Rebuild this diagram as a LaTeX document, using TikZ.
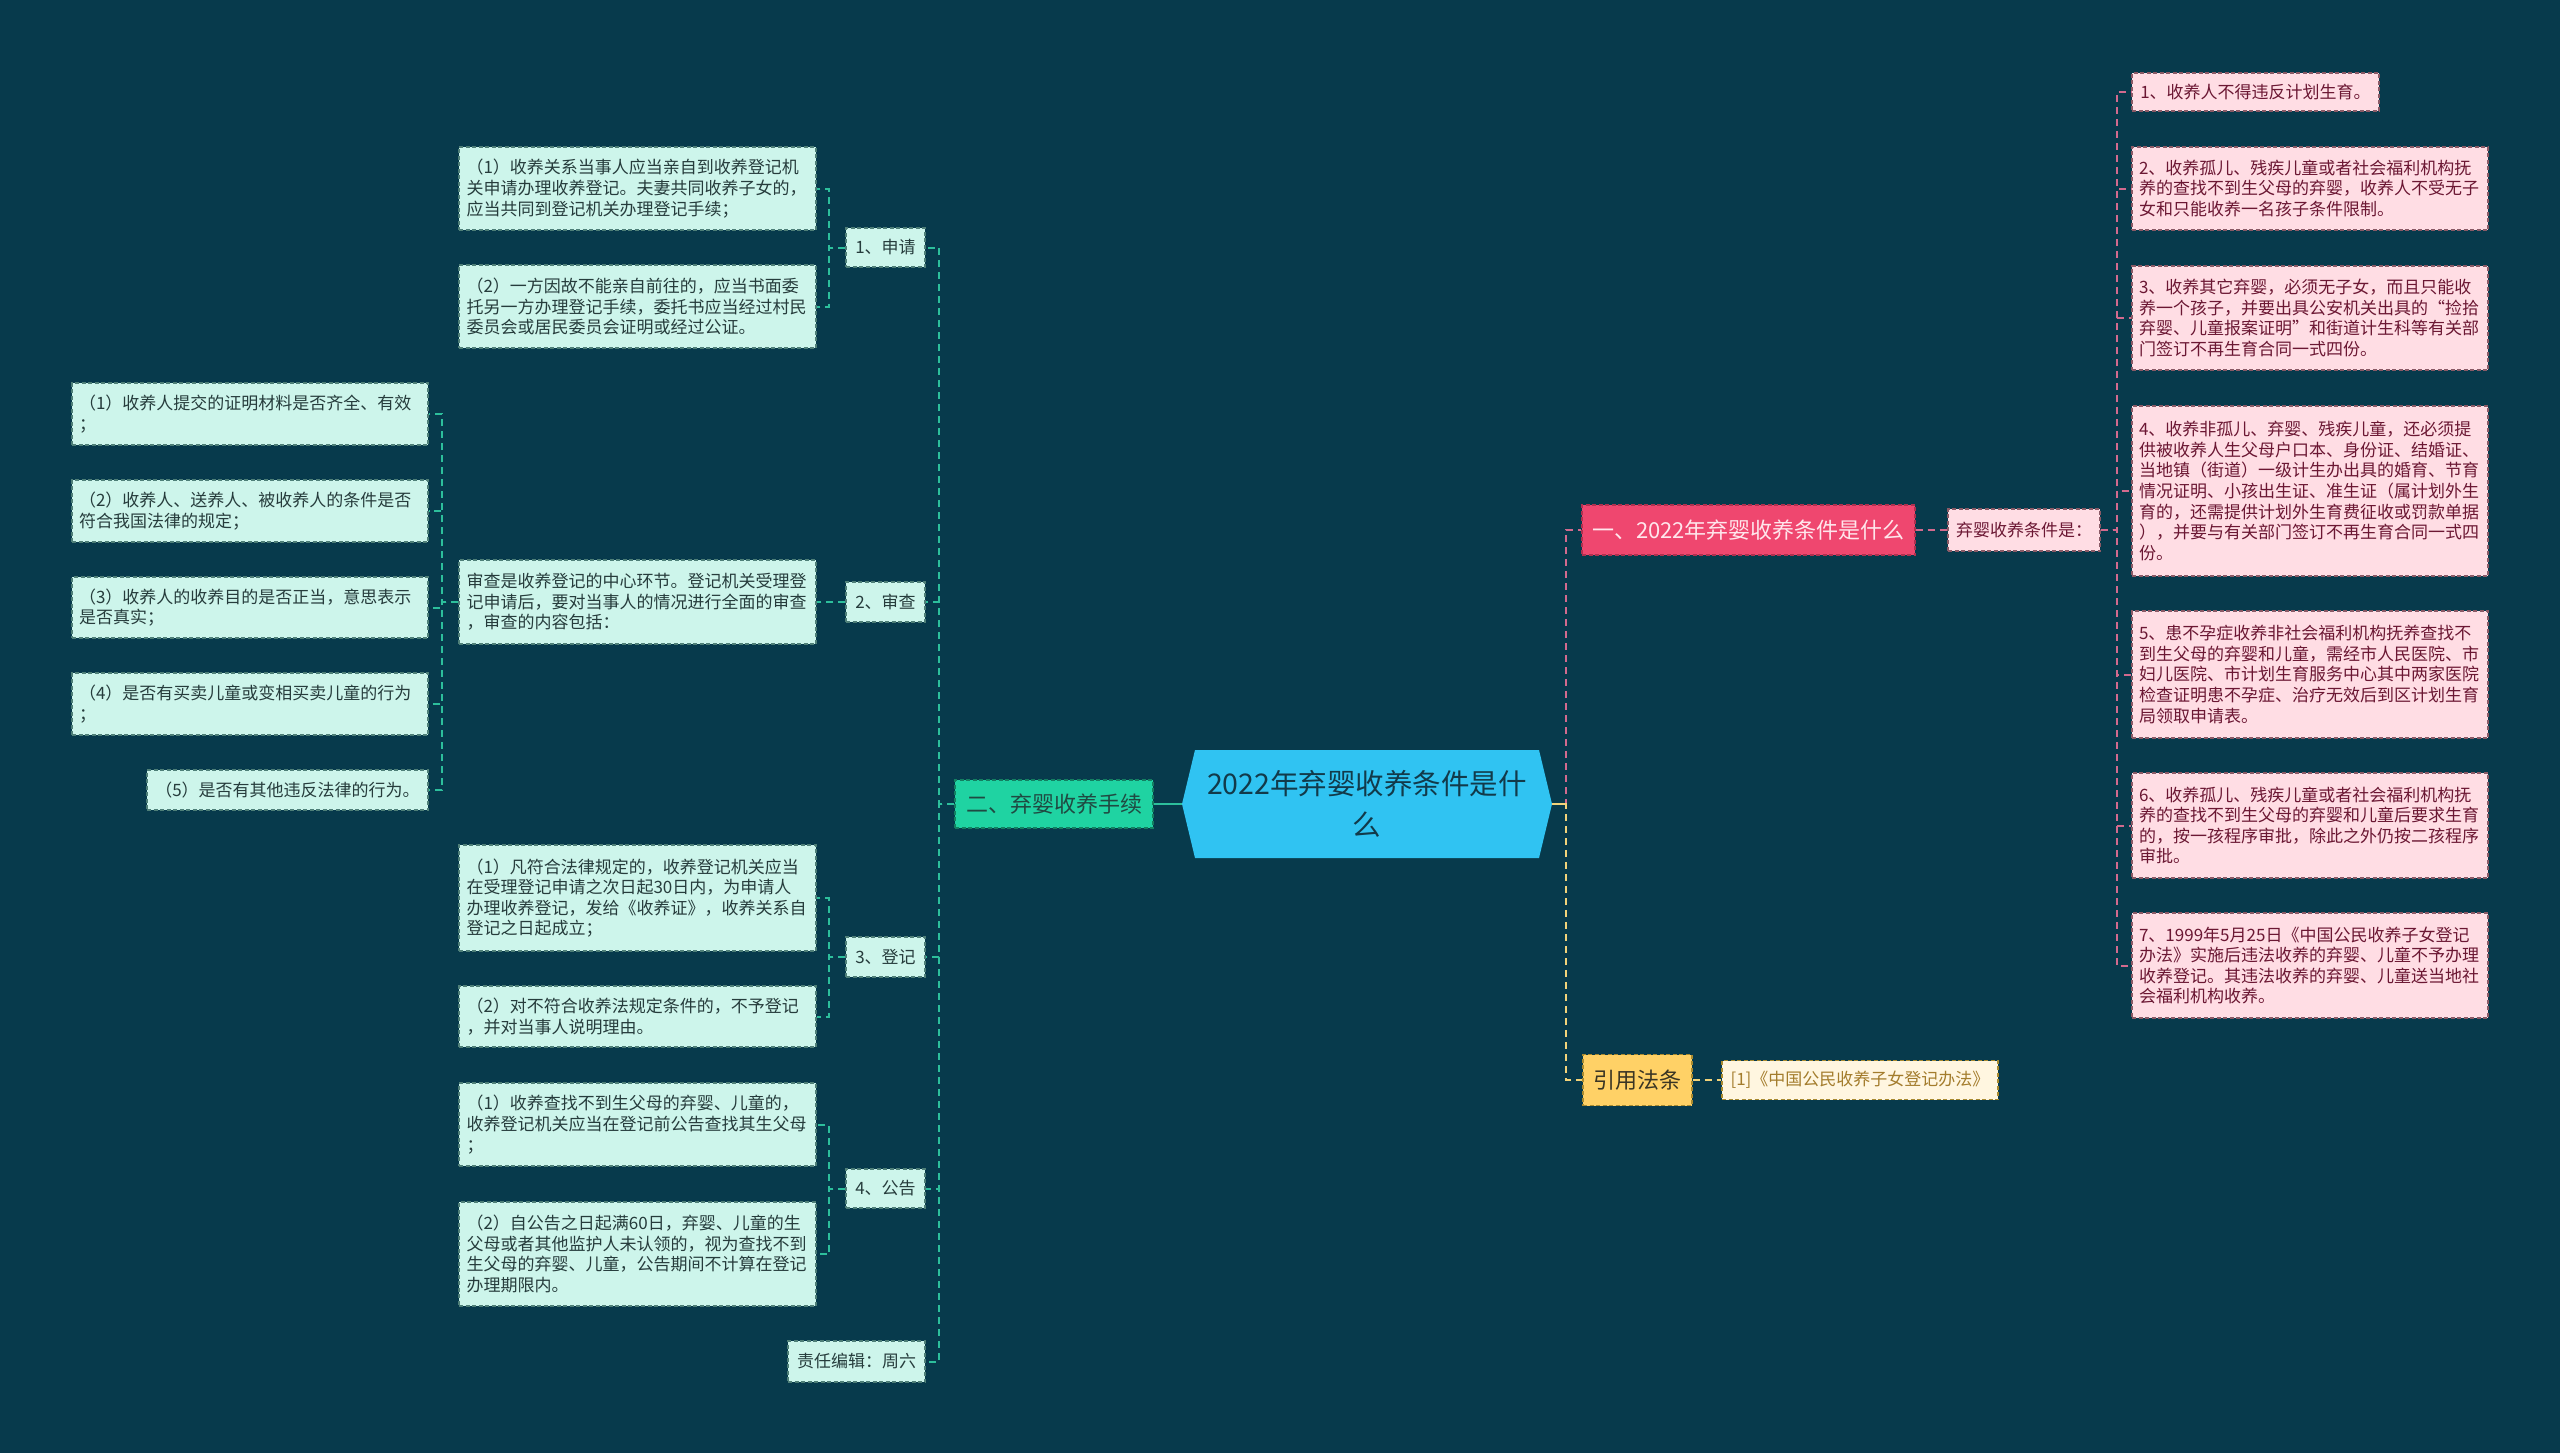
\documentclass[tikz,border=0pt]{standalone}
\usepackage{fontspec}
\setmainfont{Noto Sans CJK SC}
\definecolor{bg}{HTML}{073A4C}
\definecolor{hexfill}{HTML}{30C3F2}
\definecolor{hextext}{HTML}{123A4A}
\definecolor{greenmain}{HTML}{1FD3A2}
\definecolor{greentext}{HTML}{1F4A42}
\definecolor{mintfill}{HTML}{CDF5EB}
\definecolor{mintborder}{HTML}{4E7F78}
\definecolor{minttext}{HTML}{263C3C}
\definecolor{tealc}{HTML}{2DBF9C}
\definecolor{pinkmain}{HTML}{EF476F}
\definecolor{pinkmainborder}{HTML}{B0304F}
\definecolor{pinkmaintext}{HTML}{FFE6EC}
\definecolor{pinkfill}{HTML}{FFDDE4}
\definecolor{pinkborder}{HTML}{8A5A66}
\definecolor{pinktext}{HTML}{6B1733}
\definecolor{pinkc}{HTML}{D26A8E}
\definecolor{yellowmain}{HTML}{FFD166}
\definecolor{yellowborder}{HTML}{A88A30}
\definecolor{yellowtext}{HTML}{3A3524}
\definecolor{creamfill}{HTML}{FFF6E0}
\definecolor{creamtext}{HTML}{A37C2C}
\definecolor{yellowc}{HTML}{F2D37A}
\begin{document}
\begin{tikzpicture}[x=1pt,y=-1pt,
  box/.style={line width=1.2pt, dash pattern=on 4pt off 2.5pt, inner sep=0pt, inner xsep=7pt, align=left, anchor=center},
  wh/.style 2 args={minimum width=#1, minimum height=#2},
  small/.style={font=\fontsize{17}{20.6}\selectfont},
  big/.style={font=\fontsize{22}{26}\selectfont},
  mint/.style={box, small, fill=mintfill, draw=mintborder, text=minttext},
  pinkbox/.style={box, small, fill=pinkfill, draw=pinkborder, text=pinktext},
  wide/.style={text width=342pt},
  tealline/.style={draw=tealc, line width=2pt, dash pattern=on 7pt off 5pt},
  pinkline/.style={draw=pinkc, line width=2pt, dash pattern=on 7pt off 5pt},
  yellowline/.style={draw=yellowc, line width=2pt, dash pattern=on 7pt off 5pt},
]
\useasboundingbox (0,0) rectangle (2560,1453);
\fill[bg] (0,0) rectangle (2560,1453);

% ---------- centre ----------
\fill[hexfill] (1182,804) -- (1195,750) -- (1539,750) -- (1552,804) -- (1539,858) -- (1195,858) -- cycle;
\node[wh={370}{108}, inner sep=0pt, align=center, text=hextext, font=\fontsize{28.5}{41}\selectfont] (c) at (1367,804) {2022年弃婴收养条件是什\\么};

% ---------- main branches ----------
\node[box, big, align=center, wh={198}{48}, fill=greenmain, draw=greenmain!60!black, text=greentext] (n2) at (1054,804) {二、弃婴收养手续};
\node[box, big, align=center, wh={333}{50}, fill=pinkmain, draw=pinkmainborder, text=pinkmaintext] (n1) at (1748.5,530) {一、2022年弃婴收养条件是什么};
\node[box, big, align=center, wh={109}{51}, fill=yellowmain, draw=yellowborder, text=yellowtext] (n3) at (1637.5,1080) {引用法条};

% ---------- right: pink ----------
\node[pinkbox, align=center, wh={152}{42}] (p0) at (2024,530) {弃婴收养条件是：};
\node[pinkbox, wh={247}{38}] (r1) at (2255.5,92) {1、收养人不得违反计划生育。};
\node[pinkbox, wide, wh={356}{83}] (r2) at (2310,188.5) {2、收养孤儿、残疾儿童或者社会福利机构抚\\养的查找不到生父母的弃婴，收养人不受无子\\女和只能收养一名孩子条件限制。};
\node[pinkbox, wide, wh={356}{104}] (r3) at (2310,318) {3、收养其它弃婴，必须无子女，而且只能收\\养一个孩子，并要出具公安机关出具的“捡拾\\弃婴、儿童报案证明”和街道计生科等有关部\\门签订不再生育合同一式四份。};
\node[pinkbox, wide, wh={356}{170}] (r4) at (2310,491) {4、收养非孤儿、弃婴、残疾儿童，还必须提\\供被收养人生父母户口本、身份证、结婚证、\\当地镇（街道）一级计生办出具的婚育、节育\\情况证明、小孩出生证、准生证（属计划外生\\育的，还需提供计划外生育费征收或罚款单据\\），并要与有关部门签订不再生育合同一式四\\份。};
\node[pinkbox, wide, wh={356}{127}] (r5) at (2310,674.5) {5、患不孕症收养非社会福利机构抚养查找不\\到生父母的弃婴和儿童，需经市人民医院、市\\妇儿医院、市计划生育服务中心其中两家医院\\检查证明患不孕症、治疗无效后到区计划生育\\局领取申请表。};
\node[pinkbox, wide, wh={356}{105}] (r6) at (2310,825.5) {6、收养孤儿、残疾儿童或者社会福利机构抚\\养的查找不到生父母的弃婴和儿童后要求生育\\的，按一孩程序审批，除此之外仍按二孩程序\\审批。};
\node[pinkbox, wide, wh={356}{105}] (r7) at (2310,965.5) {7、1999年5月25日《中国公民收养子女登记\\办法》实施后违法收养的弃婴、儿童不予办理\\收养登记。其违法收养的弃婴、儿童送当地社\\会福利机构收养。};

% ---------- right: yellow ----------
\node[box, small, align=center, wh={276}{39}, fill=creamfill, draw=yellowborder, text=creamtext] (y1) at (1860,1080) {[1]《中国公民收养子女登记办法》};

% ---------- left: mint ----------
\node[mint, align=center, wh={79}{39}] (s1) at (885.5,247.5) {1、申请};
\node[mint, align=center, wh={79}{40}] (s2) at (885.5,602) {2、审查};
\node[mint, align=center, wh={79}{40}] (s3) at (885.5,957) {3、登记};
\node[mint, align=center, wh={79}{39}] (s4) at (885.5,1188.5) {4、公告};
\node[mint, align=center, wh={137}{41}] (s5) at (856.5,1361.5) {责任编辑：周六};

\node[mint, wide, wh={357}{83}] (a1) at (637.5,188.5) {（1）收养关系当事人应当亲自到收养登记机\\关申请办理收养登记。夫妻共同收养子女的，\\应当共同到登记机关办理登记手续；};
\node[mint, wide, wh={357}{83}] (a2) at (637.5,306.5) {（2）一方因故不能亲自前往的，应当书面委\\托另一方办理登记手续，委托书应当经过村民\\委员会或居民委员会证明或经过公证。};
\node[mint, wide, wh={357}{84}] (b) at (637.5,602) {审查是收养登记的中心环节。登记机关受理登\\记申请后，要对当事人的情况进行全面的审查\\，审查的内容包括：};
\node[mint, wide, wh={356}{62}] (c1) at (250,414) {（1）收养人提交的证明材料是否齐全、有效\\；};
\node[mint, wide, wh={356}{62}] (c2) at (250,511) {（2）收养人、送养人、被收养人的条件是否\\符合我国法律的规定；};
\node[mint, wide, wh={356}{61}] (c3) at (250,607.5) {（3）收养人的收养目的是否正当，意思表示\\是否真实；};
\node[mint, wide, wh={356}{62}] (c4) at (250,704) {（4）是否有买卖儿童或变相买卖儿童的行为\\；};
\node[mint, wh={281}{40}] (c5) at (287.5,790) {（5）是否有其他违反法律的行为。};
\node[mint, wide, wh={357}{106}] (d1) at (637.5,898) {（1）凡符合法律规定的，收养登记机关应当\\在受理登记申请之次日起30日内，为申请人\\办理收养登记，发给《收养证》，收养关系自\\登记之日起成立；};
\node[mint, wide, wh={357}{61}] (d2) at (637.5,1016.5) {（2）对不符合收养法规定条件的，不予登记\\，并对当事人说明理由。};
\node[mint, wide, wh={357}{83}] (e1) at (637.5,1124.5) {（1）收养查找不到生父母的弃婴、儿童的，\\收养登记机关应当在登记前公告查找其生父母\\；};
\node[mint, wide, wh={357}{104}] (e2) at (637.5,1254) {（2）自公告之日起满60日，弃婴、儿童的生\\父母或者其他监护人未认领的，视为查找不到\\生父母的弃婴、儿童，公告期间不计算在登记\\办理期限内。};

% ---------- connectors ----------
\draw[tealc, line width=2pt] (c.west) -- (n2.east);
\draw[pinkline] (c.east) -- ++(14,0) |- (n1.west);
\draw[yellowline] (c.east) -- ++(14,0) |- (n3.west);
\draw[yellowc, line width=2pt] (c.east) -- ++(14,0);

\draw[pinkline] (n1.east) -- (p0.west);
\foreach \r in {r1,r2,r3,r4,r5,r6,r7}
  \draw[pinkline] (p0.east) -- ++(16,0) |- (\r.west);
\draw[yellowline] (n3.east) -- (y1.west);

\foreach \s in {s1,s2,s3,s4,s5}
  \draw[tealline] (n2.west) -- ++(-15,0) |- (\s.east);
\draw[tealline] (s1.west) -- ++(-16,0) |- (a1.east);
\draw[tealline] (s1.west) -- ++(-16,0) |- (a2.east);
\draw[tealline] (s2.west) -- (b.east);
\draw[tealline] (s3.west) -- ++(-16,0) |- (d1.east);
\draw[tealline] (s3.west) -- ++(-16,0) |- (d2.east);
\draw[tealline] (s4.west) -- ++(-16,0) |- (e1.east);
\draw[tealline] (s4.west) -- ++(-16,0) |- (e2.east);
\foreach \k in {c1,c2,c3,c4,c5}
  \draw[tealline] (b.west) -- ++(-16,0) |- (\k.east);
\end{tikzpicture}
\end{document}
